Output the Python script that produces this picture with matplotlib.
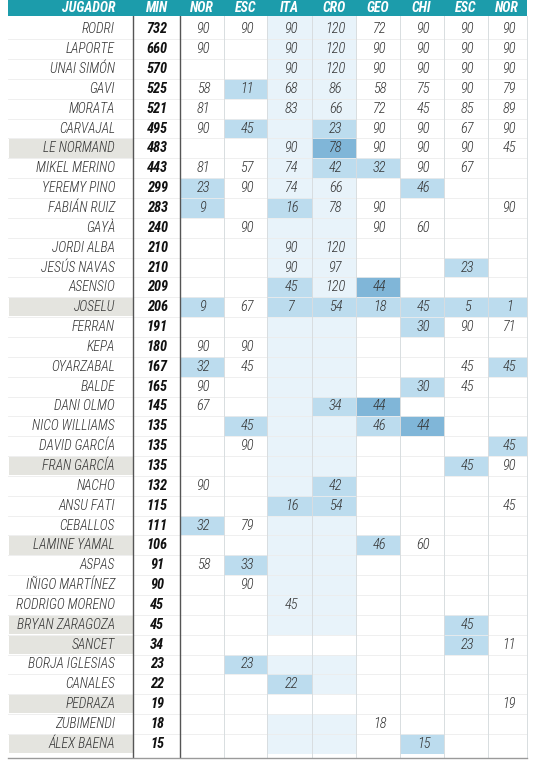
import matplotlib.pyplot as plt
from matplotlib import font_manager
from matplotlib.patches import Rectangle

matches = ['NOR', 'ESC', 'ITA', 'CRO', 'GEO', 'CHI', 'ESC', 'NOR']
players = ['RODRI', 'LAPORTE', 'UNAI SIMÓN', 'GAVI', 'MORATA', 'CARVAJAL',
           'LE NORMAND', 'MIKEL MERINO', 'YEREMY PINO', 'FABIÁN RUIZ', 'GAYÀ',
           'JORDI ALBA', 'JESÚS NAVAS', 'ASENSIO', 'JOSELU', 'FERRAN', 'KEPA',
           'OYARZABAL', 'BALDE', 'DANI OLMO', 'NICO WILLIAMS', 'DAVID GARCÍA',
           'FRAN GARCÍA', 'NACHO', 'ANSU FATI', 'CEBALLOS', 'LAMINE YAMAL',
           'ASPAS', 'IÑIGO MARTÍNEZ', 'RODRIGO MORENO', 'BRYAN ZARAGOZA',
           'SANCET', 'BORJA IGLESIAS', 'CANALES', 'PEDRAZA', 'ZUBIMENDI',
           'ÁLEX BAENA']
minutes = [732, 660, 570, 525, 521, 495, 483, 443, 299, 283, 240, 210, 210,
           209, 206, 191, 180, 167, 165, 145, 135, 135, 135, 132, 115, 111,
           106, 91, 90, 45, 45, 34, 23, 22, 19, 18, 15]
N = None
played = [
    [90, 90, 90, 120, 72, 90, 90, 90],
    [90, N, 90, 120, 90, 90, 90, 90],
    [N, N, 90, 120, 90, 90, 90, 90],
    [58, 11, 68, 86, 58, 75, 90, 79],
    [81, N, 83, 66, 72, 45, 85, 89],
    [90, 45, N, 23, 90, 90, 67, 90],
    [N, N, 90, 78, 90, 90, 90, 45],
    [81, 57, 74, 42, 32, 90, 67, N],
    [23, 90, 74, 66, N, 46, N, N],
    [9, N, 16, 78, 90, N, N, 90],
    [N, 90, N, N, 90, 60, N, N],
    [N, N, 90, 120, N, N, N, N],
    [N, N, 90, 97, N, N, 23, N],
    [N, N, 45, 120, 44, N, N, N],
    [9, 67, 7, 54, 18, 45, 5, 1],
    [N, N, N, N, N, 30, 90, 71],
    [90, 90, N, N, N, N, N, N],
    [32, 45, N, N, N, N, 45, 45],
    [90, N, N, N, N, 30, 45, N],
    [67, N, N, 34, 44, N, N, N],
    [N, 45, N, N, 46, 44, N, N],
    [N, 90, N, N, N, N, N, 45],
    [N, N, N, N, N, N, 45, 90],
    [90, N, N, 42, N, N, N, N],
    [N, N, 16, 54, N, N, N, 45],
    [32, 79, N, N, N, N, N, N],
    [N, N, N, N, 46, 60, N, N],
    [58, 33, N, N, N, N, N, N],
    [N, 90, N, N, N, N, N, N],
    [N, N, 45, N, N, N, N, N],
    [N, N, N, N, N, N, 45, N],
    [N, N, N, N, N, N, 23, 11],
    [N, 23, N, N, N, N, N, N],
    [N, N, 22, N, N, N, N, N],
    [N, N, N, N, N, N, N, 19],
    [N, N, N, N, 18, N, N, N],
    [N, N, N, N, N, 15, N, N],
]
# cell shading: '.' none, 'l' light blue, 'd' dark blue
shade = [
    '........', '........', '........', '.l......', '........',
    '.l.l....', '...d....', '...ll...', 'l....l..', 'l.l.....',
    '........', '........', '......l.', '..l.d...', 'l.llllll',
    '.....l..', '........', 'l......l', '.....l..', '...ld...',
    '.l..ld..', '.......l', '......l.', '...l....', '..ll....',
    'l.......', '....l...', '.l......', '........', '........',
    '......l.', '......l.', '.l......', '..l.....', '........',
    '........', '.....l..',
]
grey_names = ['LE NORMAND', 'JOSELU', 'FRAN GARCÍA', 'LAMINE YAMAL',
              'BRYAN ZARAGOZA', 'SANCET', 'PEDRAZA', 'ÁLEX BAENA']
no_band = ['SANCET', 'PEDRAZA']

# pick a narrow font if one is installed
installed = {(f.name, f.stretch) for f in font_manager.fontManager.ttflist}
names_only = {f[0] for f in installed}
font = 'Roboto'
stretch = 'normal'
for cand in ['Liberation Sans Narrow', 'Roboto Condensed', 'Open Sans Condensed']:
    if cand in names_only:
        font = cand
        break
else:
    if ('DejaVu Sans', 'condensed') in installed or ('DejaVu Sans', 'semi-condensed') in installed:
        font = 'DejaVu Sans'
        stretch = 'condensed'

# layout (pixels)
W, H = 543, 762
left, right = 8, 527
head_h = 16
y0, rh = 29.3, 19.85
name_x = 115
col_edges = [133, 179.5, 223.5, 267.3, 311.7, 355.7, 399.5, 443.5, 487.5, 527]

teal = '#1c9cab'
light = '#bcdcee'
dark = '#80b6d8'
band = '#e8f3fa'
txt = '#333333'

plt.rcParams['font.family'] = [font, 'DejaVu Sans']
plt.rcParams['font.stretch'] = stretch

fig = plt.figure(figsize=(W / 100, H / 100), dpi=100)
ax = fig.add_axes([0, 0, 1, 1])
ax.set_xlim(0, W)
ax.set_ylim(H, 0)
ax.axis('off')

n = len(players)
bottom = y0 + (n - 0.5) * rh

# ITA / CRO band
for i, p in enumerate(players):
    top = y0 + (i - 0.5) * rh
    if i == 0:
        top = head_h
    if p not in no_band:
        ax.add_patch(Rectangle((col_edges[3], top), col_edges[5] - col_edges[3],
                               y0 + (i + 0.5) * rh - top, color=band, lw=0, zorder=0))

fs_name = 9.8
fs_val = 10.4
for i, p in enumerate(players):
    yc = y0 + i * rh
    top = yc - rh / 2
    if p in grey_names:
        ax.add_patch(Rectangle((left + 1, top + 0.8), col_edges[0] - left - 1.5,
                               rh - 1.6, color='#e4e4df', lw=0, zorder=1))
    ax.text(name_x, yc, p, ha='right', va='center', fontsize=fs_name,
            style='italic', fontweight='light', color=txt, zorder=3)
    ax.text((col_edges[0] + col_edges[1]) / 2 + 1, yc, str(minutes[i]),
            ha='center', va='center', fontsize=fs_val, style='italic',
            fontweight='bold', color='#111111', zorder=3)
    for j, v in enumerate(played[i]):
        x0, x1 = col_edges[j + 1], col_edges[j + 2]
        s = shade[i][j]
        if s != '.':
            ax.add_patch(Rectangle((x0, top), x1 - x0, rh,
                                   color=light if s == 'l' else dark,
                                   lw=0, zorder=1))
        if v is not None:
            ax.text((x0 + x1) / 2 + 2, yc, str(v), ha='center', va='center',
                    fontsize=fs_val, style='italic', fontweight='light',
                    color=txt, zorder=3)
    if i < n - 1:
        ax.plot([left, right], [top + rh, top + rh], color='#ececec',
                lw=0.6, zorder=2)

# vertical lines
for k, x in enumerate(col_edges):
    if k < 2:
        ax.plot([x, x], [head_h, bottom + 3], color='#555555', lw=1.0, zorder=2)
    else:
        ax.plot([x, x], [head_h, bottom + 3], color='#d8dde0', lw=0.7, zorder=2)
ax.plot([left, right], [bottom + 4, bottom + 4], color='#9a9a9a', lw=1.0, zorder=2)

# header
ax.add_patch(Rectangle((left, 0), right - left, head_h, color=teal, lw=0, zorder=4))
hy = head_h / 2 + 0.5
ax.text(name_x, hy, 'JUGADOR', ha='right', va='center', fontsize=10,
        style='italic', fontweight='bold', color='white', zorder=5)
ax.text((col_edges[0] + col_edges[1]) / 2 + 1, hy, 'MIN', ha='center',
        va='center', fontsize=10, style='italic', fontweight='bold',
        color='white', zorder=5)
for j, m in enumerate(matches):
    ax.text((col_edges[j + 1] + col_edges[j + 2]) / 2, hy, m, ha='center',
            va='center', fontsize=10, style='italic', fontweight='bold',
            color='white', zorder=5)

fig.savefig('out.png', dpi=100, facecolor='white')
